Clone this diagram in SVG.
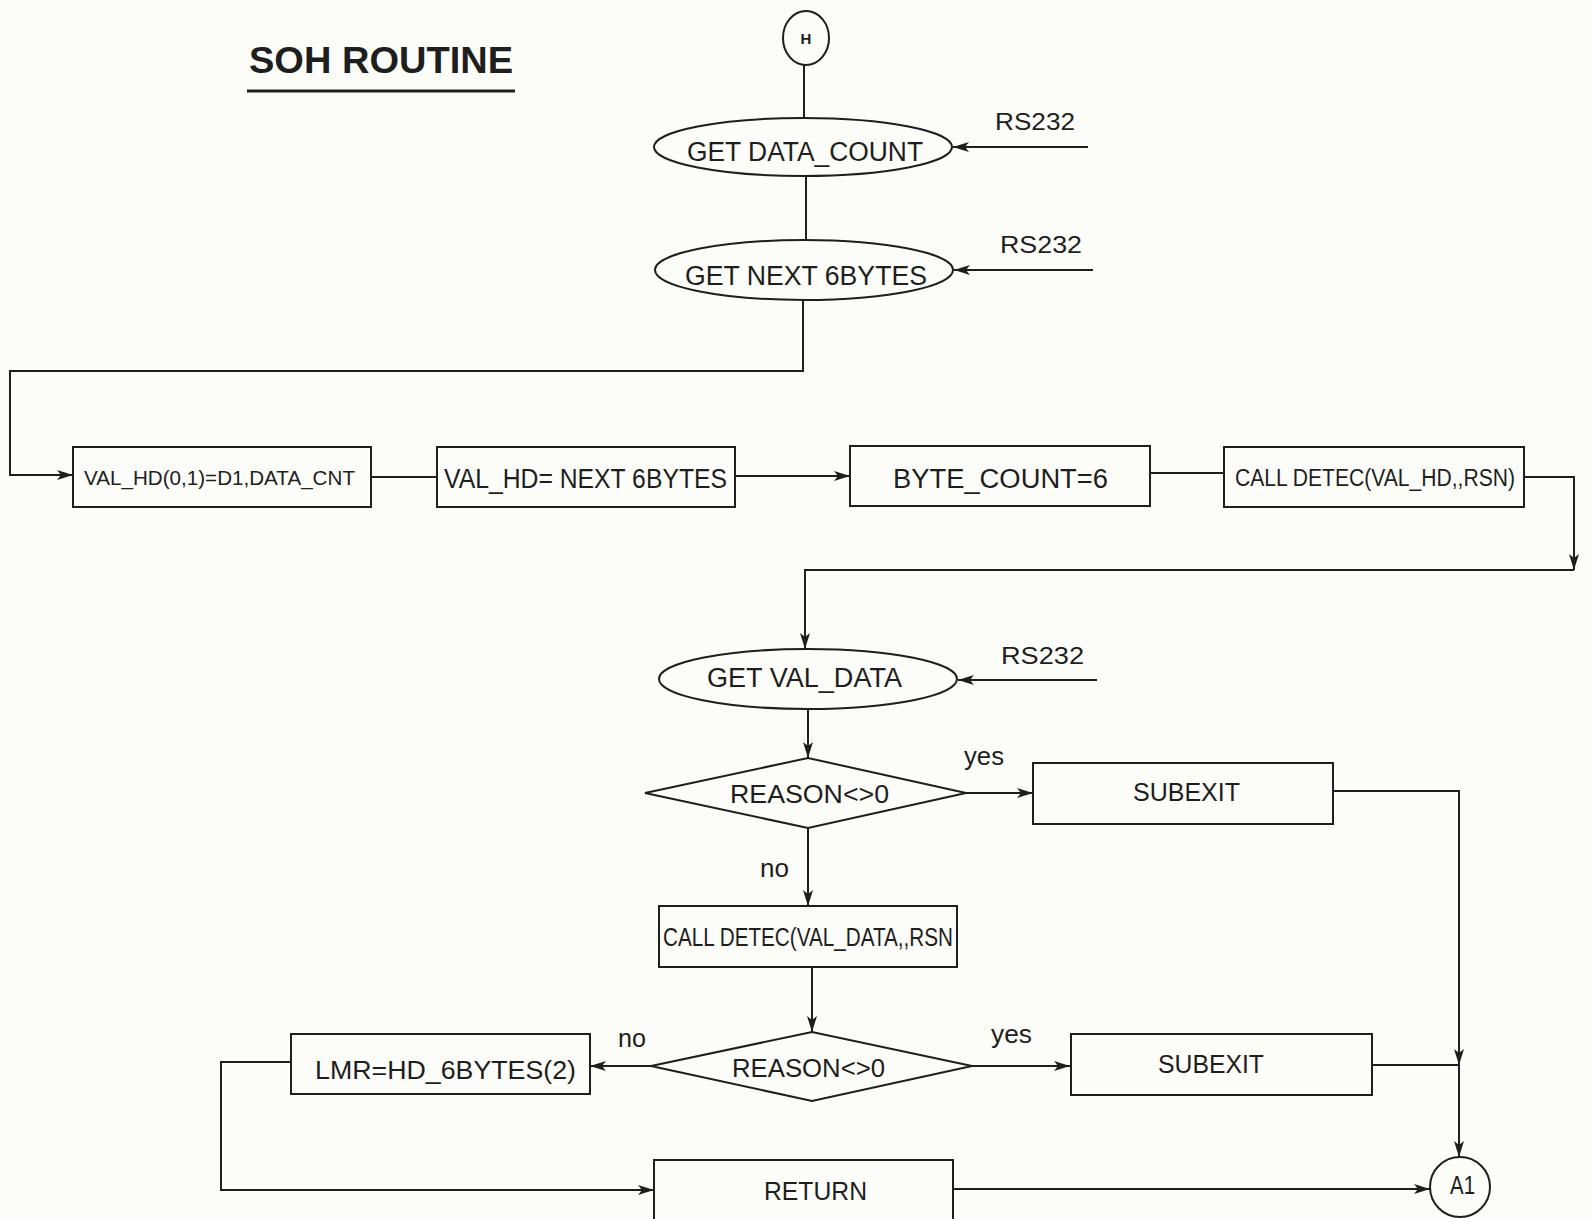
<svg xmlns="http://www.w3.org/2000/svg" width="1591" height="1219" viewBox="0 0 1591 1219">
  <style>
    .bg { fill: #fcfcf8; }
    .shape { fill: none; stroke: #1e1e1e; stroke-width: 2; }
    .link { fill: none; stroke: #1e1e1e; stroke-width: 2; }
    .t { font-family: "Liberation Sans", Arial, sans-serif; fill: #1e1e1e; }
    .title { font-weight: bold; font-size: 36px; }
    .lbl { font-size: 26px; }
  </style>
  <defs>
    <marker id="arrow" markerUnits="userSpaceOnUse" markerWidth="18" markerHeight="12" refX="16" refY="6" orient="auto">
      <path d="M0,1 L16,6 L0,11 L4,6 z" fill="#1e1e1e"/>
    </marker>
  </defs>

  <rect class="bg" x="0" y="0" width="1591" height="1219"/>

  <!-- heading -->
  <g id="title">
    <text class="t title" x="249" y="73" textLength="264" lengthAdjust="spacingAndGlyphs">SOH ROUTINE</text>
    <line x1="247" y1="91" x2="515" y2="91" stroke="#1e1e1e" stroke-width="3"/>
  </g>

  <!-- connectors -->
  <g id="connectors">
    <line class="link" x1="804" y1="65" x2="804" y2="118"/>
    <line class="link" x1="1088" y1="147" x2="953" y2="147" marker-end="url(#arrow)"/>
    <line class="link" x1="806" y1="176" x2="806" y2="240"/>
    <line class="link" x1="1093" y1="270" x2="954" y2="270" marker-end="url(#arrow)"/>
    <polyline class="link" points="803,300 803,371 10,371 10,475 73,475" marker-end="url(#arrow)"/>
    <line class="link" x1="371" y1="477" x2="437" y2="477"/>
    <line class="link" x1="735" y1="476" x2="850" y2="476" marker-end="url(#arrow)"/>
    <line class="link" x1="1150" y1="473" x2="1224" y2="473"/>
    <polyline class="link" points="1524,477 1574,477 1574,570" marker-end="url(#arrow)"/>
    <polyline class="link" points="1574,570 805,570 805,649" marker-end="url(#arrow)"/>
    <line class="link" x1="1097" y1="680" x2="958" y2="680" marker-end="url(#arrow)"/>
    <line class="link" x1="808" y1="709" x2="808" y2="758" marker-end="url(#arrow)"/>
    <line class="link" x1="966" y1="793" x2="1033" y2="793" marker-end="url(#arrow)"/>
    <line class="link" x1="808" y1="828" x2="808" y2="906" marker-end="url(#arrow)"/>
    <line class="link" x1="812" y1="967" x2="812" y2="1032" marker-end="url(#arrow)"/>
    <line class="link" x1="651" y1="1066" x2="590" y2="1066" marker-end="url(#arrow)"/>
    <line class="link" x1="972" y1="1066" x2="1070" y2="1066" marker-end="url(#arrow)"/>
    <polyline class="link" points="1333,791 1459,791 1459,1065" marker-end="url(#arrow)"/>
    <line class="link" x1="1372" y1="1065" x2="1459" y2="1065"/>
    <line class="link" x1="1459" y1="1065" x2="1459" y2="1157" marker-end="url(#arrow)"/>
    <polyline class="link" points="291,1062 221,1062 221,1190 654,1190" marker-end="url(#arrow)"/>
    <line class="link" x1="953" y1="1189" x2="1430" y2="1189" marker-end="url(#arrow)"/>
  </g>

  <!-- edge labels -->
  <g id="edge-labels">
    <text class="t" font-size="24" x="995" y="130" textLength="80" lengthAdjust="spacingAndGlyphs">RS232</text>
    <text class="t" font-size="24" x="1000" y="253" textLength="82" lengthAdjust="spacingAndGlyphs">RS232</text>
    <text class="t" font-size="24" x="1001" y="664" textLength="83" lengthAdjust="spacingAndGlyphs">RS232</text>
    <text class="t lbl" x="964" y="765" textLength="40" lengthAdjust="spacingAndGlyphs">yes</text>
    <text class="t lbl" x="760" y="877" textLength="29" lengthAdjust="spacingAndGlyphs">no</text>
    <text class="t lbl" x="618" y="1047" textLength="28" lengthAdjust="spacingAndGlyphs">no</text>
    <text class="t lbl" x="991" y="1043" textLength="41" lengthAdjust="spacingAndGlyphs">yes</text>
  </g>

  <g id="node-h">
    <ellipse class="shape" cx="806" cy="38" rx="23" ry="27"/>
    <text class="t" font-size="15" font-weight="bold" x="806" y="44" text-anchor="middle">H</text>
  </g>

  <g id="node-get-data-count">
    <ellipse class="shape" cx="803" cy="147" rx="149" ry="29"/>
    <text class="t" font-size="27" x="687" y="161" textLength="236" lengthAdjust="spacingAndGlyphs">GET DATA_COUNT</text>
  </g>

  <g id="node-get-next-6bytes">
    <ellipse class="shape" cx="804" cy="270" rx="149" ry="30"/>
    <text class="t" font-size="27" x="685" y="285" textLength="242" lengthAdjust="spacingAndGlyphs">GET NEXT 6BYTES</text>
  </g>

  <g id="node-val-hd-init">
    <rect class="shape" x="73" y="447" width="298" height="60"/>
    <text class="t" font-size="21" x="84" y="485" textLength="271" lengthAdjust="spacingAndGlyphs">VAL_HD(0,1)=D1,DATA_CNT</text>
  </g>

  <g id="node-val-hd-next">
    <rect class="shape" x="437" y="447" width="298" height="60"/>
    <text class="t" font-size="27" x="444" y="488" textLength="283" lengthAdjust="spacingAndGlyphs">VAL_HD= NEXT 6BYTES</text>
  </g>

  <g id="node-byte-count">
    <rect class="shape" x="850" y="446" width="300" height="60"/>
    <text class="t" font-size="27" x="893" y="488" textLength="215" lengthAdjust="spacingAndGlyphs">BYTE_COUNT=6</text>
  </g>

  <g id="node-call-detec-hd">
    <rect class="shape" x="1224" y="447" width="300" height="60"/>
    <text class="t" font-size="23" x="1235" y="486" textLength="280" lengthAdjust="spacingAndGlyphs">CALL DETEC(VAL_HD,,RSN)</text>
  </g>

  <g id="node-get-val-data">
    <ellipse class="shape" cx="808" cy="679" rx="149" ry="30"/>
    <text class="t" font-size="27" x="707" y="687" textLength="195" lengthAdjust="spacingAndGlyphs">GET VAL_DATA</text>
  </g>

  <g id="node-reason-1">
    <polygon class="shape" points="645,793 808,758 966,793 808,828"/>
    <text class="t" font-size="25" x="730" y="803" textLength="159" lengthAdjust="spacingAndGlyphs">REASON&lt;&gt;0</text>
  </g>

  <g id="node-subexit-1">
    <rect class="shape" x="1033" y="763" width="300" height="61"/>
    <text class="t" font-size="26" x="1133" y="801" textLength="107" lengthAdjust="spacingAndGlyphs">SUBEXIT</text>
  </g>

  <g id="node-call-detec-data">
    <rect class="shape" x="659" y="906" width="298" height="61"/>
    <text class="t" font-size="25" x="663" y="946" textLength="290" lengthAdjust="spacingAndGlyphs">CALL DETEC(VAL_DATA,,RSN</text>
  </g>

  <g id="node-reason-2">
    <polygon class="shape" points="651,1066 812,1032 972,1066 812,1101"/>
    <text class="t" font-size="25" x="732" y="1077" textLength="153" lengthAdjust="spacingAndGlyphs">REASON&lt;&gt;0</text>
  </g>

  <g id="node-lmr">
    <rect class="shape" x="291" y="1034" width="299" height="60"/>
    <text class="t" font-size="25" x="315" y="1079" textLength="261" lengthAdjust="spacingAndGlyphs">LMR=HD_6BYTES(2)</text>
  </g>

  <g id="node-subexit-2">
    <rect class="shape" x="1071" y="1034" width="301" height="61"/>
    <text class="t" font-size="26" x="1158" y="1073" textLength="106" lengthAdjust="spacingAndGlyphs">SUBEXIT</text>
  </g>

  <g id="node-return">
    <rect class="shape" x="654" y="1160" width="299" height="70"/>
    <text class="t" font-size="26" x="764" y="1200" textLength="103" lengthAdjust="spacingAndGlyphs">RETURN</text>
  </g>

  <g id="node-a1">
    <circle class="shape" cx="1460" cy="1187" r="30"/>
    <text class="t" font-size="25" x="1450" y="1194" textLength="25" lengthAdjust="spacingAndGlyphs">A1</text>
  </g>
</svg>
